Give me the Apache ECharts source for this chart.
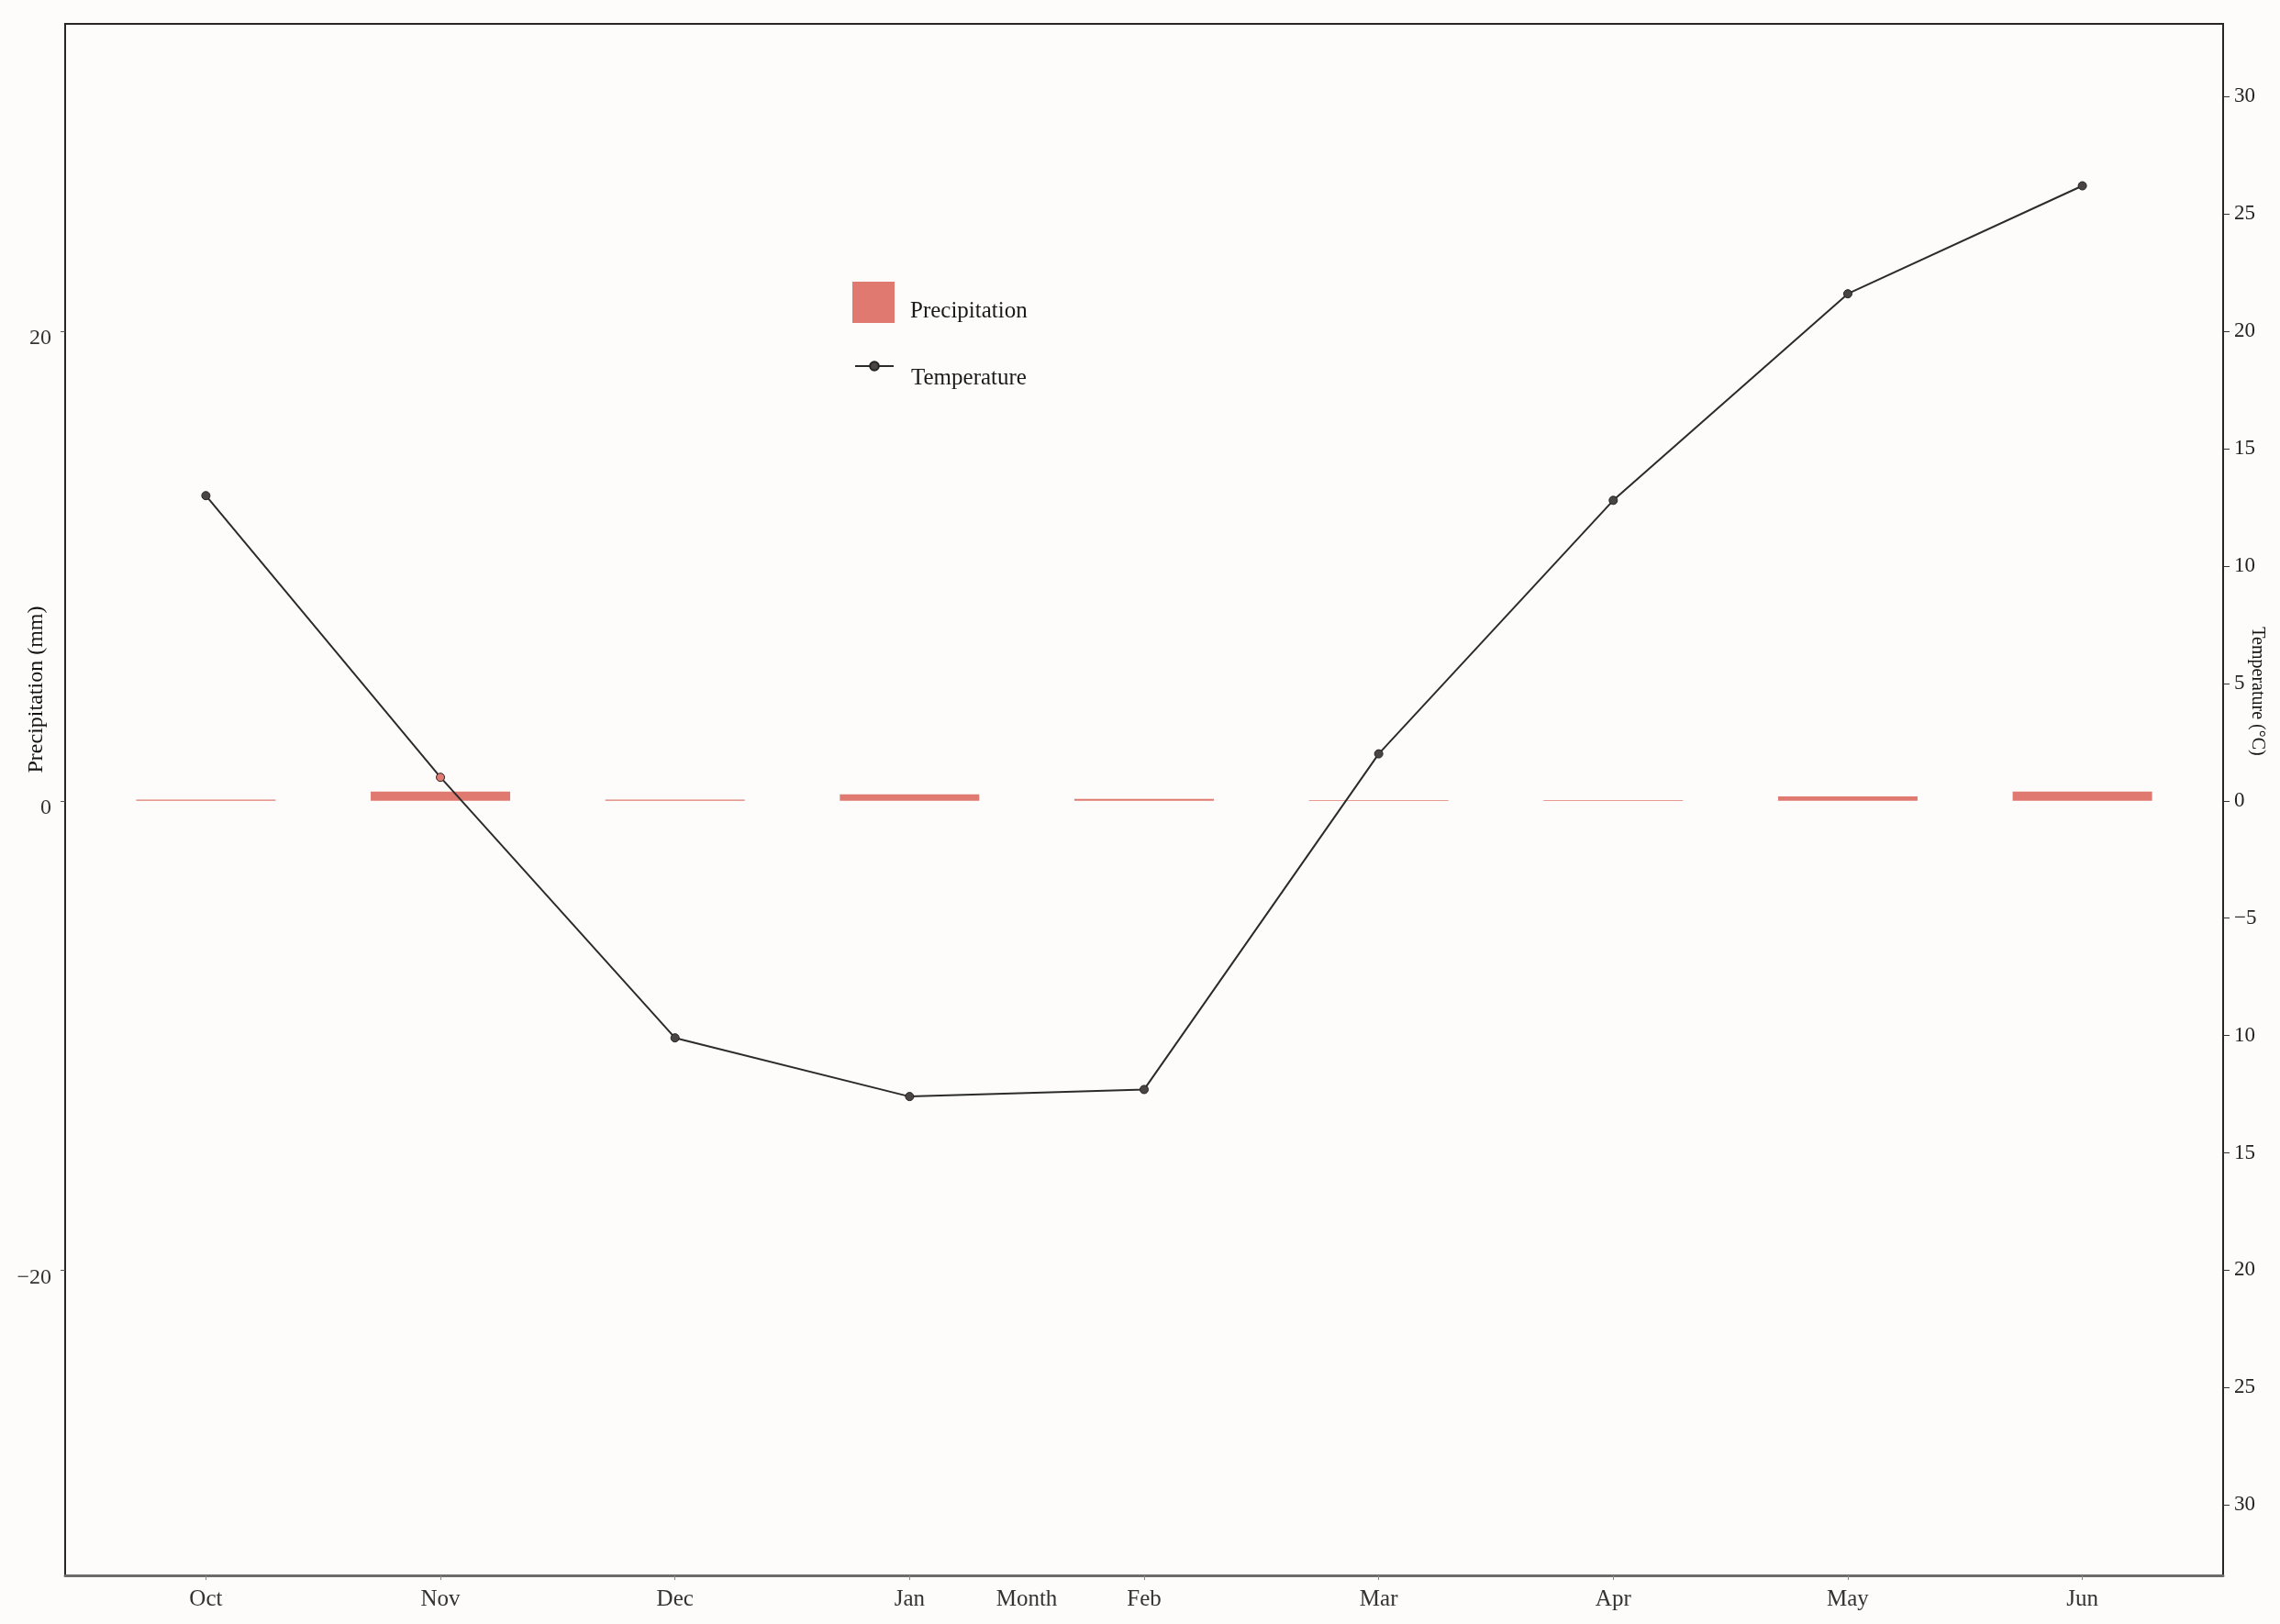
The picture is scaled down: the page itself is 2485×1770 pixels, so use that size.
<!DOCTYPE html>
<html>
<head>
<meta charset="utf-8">
<script src="https://cdn.jsdelivr.net/npm/echarts@6/dist/echarts.min.js"></script>
<style>
  html, body { margin: 0; padding: 0; background: #fdfcfb; }
  #chart { width: 2485px; height: 1770px; }
</style>
</head>
<body>
<div id="chart"></div>
<script>
const months = ['Oct', 'Nov', 'Dec', 'Jan', 'Feb', 'Mar', 'Apr', 'May', 'Jun']
const precipitation = [0.05, 0.39, 0.05, 0.27, 0.08, 0.03, 0.03, 0.19, 0.39]
const temperature = [13.0, 1.0, -10.1, -12.6, -12.3, 2.0, 12.8, 21.6, 26.2]
const precipTicks = [-20, 0, 20]
const precipTickLabels = ['−20', '0', '20']
const tempTicks = [-30, -25, -20, -15, -10, -5, 0, 5, 10, 15, 20, 25, 30]
const tempTickLabels = ['30', '25', '20', '15', '10', '−5', '0', '5', '10', '15', '20', '25', '30']

const font = "'Liberation Serif', 'DejaVu Serif', serif"
const ink = '#2a2522'
const red = '#e07a70'
const dot = '#4a4444'

// legend icons and legend texts are placed separately so the text can sit a bit lower than the key
const iconOnly = { formatter: () => '', selectedMode: false }
const textOnly = {
  itemWidth: 0, itemHeight: 0, selectedMode: false,
  textStyle: { fontFamily: font, fontSize: 25, color: '#1a1a1a' }
}

const chart = echarts.init(document.getElementById('chart'))
chart.setOption({
  backgroundColor: '#fdfcfb',
  textStyle: { fontFamily: font },
  grid: {
    left: 71, right: 62, top: 26, bottom: 53,
    outerBoundsMode: 'none',
    show: true, borderColor: ink, borderWidth: 2
  },
  legend: [
    { ...iconOnly, left: 924, top: 302, itemWidth: 46, itemHeight: 45, data: [{ name: 'Precipitation', icon: 'rect' }] },
    { ...iconOnly, left: 926, top: 388, itemWidth: 42, itemHeight: 12, data: [{ name: 'Temperature', itemStyle: { color: dot } }] },
    { ...textOnly, left: 982, top: 322, data: [{ name: 'Precipitation', icon: 'rect' }] },
    { ...textOnly, left: 982, top: 395, data: [{ name: 'Temperature', icon: 'rect' }] }
  ],
  xAxis: {
    type: 'value',
    min: -0.6,
    max: 8.6,
    name: 'Month',
    nameLocation: 'middle',
    nameGap: 14,
    nameMoveOverlap: false,
    nameTextStyle: {
      fontFamily: font, fontSize: 25, color: '#333',
      verticalAlign: 'top', padding: [0, 256, 0, 0]
    },
    splitLine: { show: false },
    axisLine: { onZero: false, lineStyle: { color: '#6b6b6b', width: 3 } },
    axisTick: { customValues: months.map((m, i) => i), length: 5, lineStyle: { color: '#888' } },
    axisLabel: {
      customValues: months.map((m, i) => i),
      formatter: v => months[v],
      fontFamily: font, fontSize: 25, color: '#333', margin: 14
    }
  },
  yAxis: [
    {
      type: 'value',
      position: 'left',
      min: -33,
      max: 33.1,
      name: 'Precipitation (mm)',
      nameLocation: 'middle',
      nameRotate: 90,
      nameGap: 19,
      nameMoveOverlap: false,
      nameTextStyle: { fontFamily: font, fontSize: 24, color: '#111', padding: [0, 0, 0, 240] },
      splitLine: { show: false },
      axisLine: { show: true, onZero: false, lineStyle: { color: ink, width: 2 } },
      axisTick: { show: true, customValues: precipTicks, length: 5, lineStyle: { color: '#555' } },
      axisLabel: {
        customValues: precipTicks,
        formatter: v => precipTickLabels[precipTicks.indexOf(v)],
        fontFamily: font, fontSize: 24, color: '#333', margin: 15,
        verticalAlign: 'top', lineHeight: 16
      }
    },
    {
      type: 'value',
      position: 'right',
      min: -33,
      max: 33.1,
      name: 'Temperature (°C)',
      nameLocation: 'middle',
      nameRotate: -90,
      nameGap: 27,
      nameMoveOverlap: false,
      nameTextStyle: { fontFamily: font, fontSize: 20, color: '#111', padding: [0, 236, 0, 0] },
      splitLine: { show: false },
      axisLine: { show: true, onZero: false, lineStyle: { color: ink, width: 2 } },
      axisTick: { show: true, customValues: tempTicks, length: 7, lineStyle: { color: '#333' } },
      axisLabel: {
        customValues: tempTicks,
        formatter: v => tempTickLabels[tempTicks.indexOf(v)],
        fontFamily: font, fontSize: 23, color: '#222', margin: 12
      }
    }
  ],
  series: [
    {
      name: 'Precipitation',
      type: 'bar',
      yAxisIndex: 0,
      barWidth: 152,
      itemStyle: { color: red },
      data: precipitation.map((v, i) => [i, v])
    },
    {
      name: 'Temperature',
      type: 'line',
      yAxisIndex: 1,
      symbol: 'circle',
      symbolSize: 9,
      lineStyle: { color: '#2b2b2b', width: 2 },
      itemStyle: {
        color: p => (p && p.dataIndex === 1 ? red : dot),
        borderColor: '#222',
        borderWidth: 1
      },
      data: temperature.map((v, i) => [i, v])
    }
  ]
})
</script>
</body>
</html>
